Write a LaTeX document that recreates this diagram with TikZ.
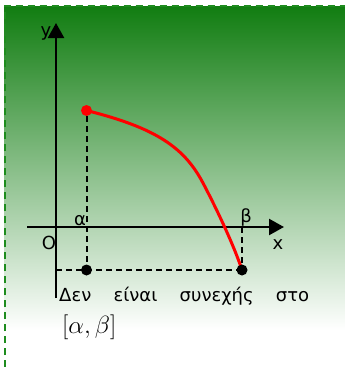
\documentclass[tikz,border=0pt]{standalone}
\usepackage{fontspec}
\newfontfamily\grfont{DejaVu Sans}
\usetikzlibrary{arrows.meta,positioning,calc}
\definecolor{boxgreen}{RGB}{17,125,17}
\definecolor{framegreen}{RGB}{30,140,30}

\begin{document}
\begin{tikzpicture}[x=1pt,y=-1pt,
axis/.style={line width=2.4pt,-{Triangle[length=15pt,width=16pt]}},
guide/.style={line width=2pt,dash pattern=on 6pt off 4pt},
lbl/.style={font=\grfont\fontsize{18}{20}\selectfont,inner sep=0pt},
blackdot/.style={circle,fill=black,inner sep=0pt,minimum size=11pt},
reddot/.style={circle,fill=red,inner sep=0pt,minimum size=11pt}]
\useasboundingbox (0,0) rectangle (345,367);
% background
\shade[top color=boxgreen,bottom color=white] (4.5,6) rectangle (345,330);
\draw[framegreen,line width=2pt,dash pattern=on 7pt off 5pt] (4.5,367) -- (4.5,6) -- (345,6);
% axes
\coordinate (ystart) at (56,298);
\coordinate (yend) at (56,23);
\coordinate (xstart) at (27,227);
\coordinate (xend) at (284,227);
\path[axis]
(ystart) edge (yend)
(xstart) edge (xend)
;
\coordinate (a) at (86.5,110.5);
\coordinate (m) at (203,183);
\coordinate (b) at (242,270);
\coordinate (xb) at (242,227);
\coordinate (ya) at (56,270);
% graph
\draw[red,line width=3pt] (a) .. controls (156.5,128) and (184.3,147.6) .. (m)
 .. controls (212,200) and (232,240) .. (b);
\node[reddot] (A) at (a) {};
\node[blackdot] (Pa) at (86.5,270) {};
\node[blackdot] (Pb) at (b) {};
\path[guide]
(A) edge (Pa)
(ya) edge (Pb)
(xb) edge (Pb)
;
% labels
\node[lbl] (ylbl) at (46,33) {y};
\node[lbl] (xlbl) at (278,245) {x};
\node[lbl] (olbl) at (49,243) {O};
\node[lbl] (alpha) at (80,221) {α};
\node[lbl] (beta) at (246,217) {β};
\node[lbl,anchor=west] (msg) at (59,296) {\makebox[250pt][s]{Δεν είναι συνεχής στο}};
\node[anchor=west,inner sep=0pt,font=\Huge] (intv) at (62,327) {$[\alpha,\beta]$};
\end{tikzpicture}
\end{document}
